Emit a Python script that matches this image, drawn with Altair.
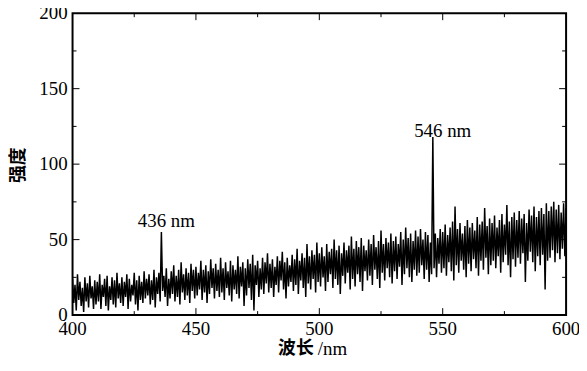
import altair as alt
import numpy as np
import pandas as pd

# upper excursions of the noisy spectrum, one per nm from 400 to 600
hi_vals = [
    24, 20, 27, 22, 18, 25, 21, 26, 19, 23,
    22, 27, 20, 24, 26, 19, 25, 23, 28, 21,
    25, 22, 27, 24, 20, 28, 23, 26, 22, 29,
    24, 27, 23, 30, 25, 28, 55, 26, 31, 24,
    29, 33, 26, 30, 35, 27, 31, 28, 34, 30,
    32, 28, 36, 30, 33, 29, 37, 31, 34, 30,
    38, 31, 35, 29, 36, 33, 30, 39, 32, 35,
    31, 37, 34, 40, 33, 36, 31, 38, 35, 41,
    34, 37, 32, 39, 36, 42, 35, 38, 33, 40,
    37, 44, 36, 41, 38, 47, 39, 43, 40, 48,
    41, 45, 39, 47, 42, 44, 50, 43, 46, 41,
    48, 43, 46, 52, 44, 49, 45, 51, 46, 43,
    50, 47, 53, 45, 49, 56, 47, 51, 48, 54,
    49, 52, 47, 55, 50, 58, 51, 54, 49, 56,
    52, 57, 50, 55, 53, 48, 118, 54, 51, 57,
    55, 60, 53, 58, 62, 72, 57, 61, 54, 59,
    63, 58, 61, 56, 65, 60, 62, 71, 59, 64,
    61, 66, 58, 63, 67, 60, 73, 62, 65, 68,
    63, 69, 64, 67, 61, 70, 66, 72, 65, 69,
    71, 67, 74, 69, 72, 75, 70, 73, 68, 74,
    71,
]
# lower excursions, one per nm from 400.5 to 599.5
lo_vals = [
    8, 3, 10, 6, 2, 9, 5, 11, 4, 7,
    9, 4, 12, 6, 3, 10, 7, 5, 11, 8,
    6, 12, 4, 9, 13, 7, 3, 10, 8, 11,
    13, 7, 10, 5, 14, 9, 16, 12, 6, 11,
    14, 9, 12, 7, 15, 10, 13, 8, 16, 11,
    13, 17, 10, 15, 8, 14, 18, 11, 16, 12,
    15, 10, 18, 13, 9, 17, 14, 11, 19, 6,
    13, 18, 10, 3, 20, 12, 17, 14, 21, 15,
    18, 12, 20, 15, 23, 17, 11, 19, 22, 16,
    20, 14, 23, 18, 12, 21, 17, 24, 15, 22,
    19, 25, 16, 22, 27, 18, 24, 20, 14, 26,
    21, 28, 17, 24, 19, 27, 22, 16, 29, 23,
    26, 20, 30, 24, 18, 28, 23, 31, 25, 21,
    29, 24, 32, 20, 27, 31, 25, 22, 30, 26,
    28, 33, 24, 30, 22, 27, 31, 25, 34, 28,
    31, 26, 35, 29, 23, 33, 28, 36, 30, 25,
    34, 29, 37, 31, 26, 36, 30, 38, 27, 33,
    36, 31, 39, 28, 35, 40, 33, 25, 37, 32,
    38, 34, 41, 22, 36, 42, 35, 29, 39, 33,
    40, 17, 36, 38, 43, 35, 41, 37, 44, 39,
]

x_ticks = [400, 450, 500, 550, 600]
y_ticks = [0, 50, 100, 150, 200]
x_minor = [425, 475, 525, 575]
y_minor = [25, 75, 125, 175]
x_inner = [450, 500, 550]
y_inner = [50, 100, 150]

peak_labels = ["436 nm", "546 nm"]
peak_label_x = [438, 550]
peak_label_y = [62, 122]

x_title_cjk = "波长"
x_title_unit = "/nm"
y_title = "强度"

W, H = 497, 304
SERIF = "Liberation Serif"
CJK = "Noto Sans CJK SC"

wl_hi = np.arange(400, 601, 1.0)
wl_lo = np.arange(400.5, 600, 1.0)
spec = pd.DataFrame({
    "wl": np.concatenate([wl_hi, wl_lo]),
    "val": hi_vals + lo_vals,
}).sort_values("wl")

xs = alt.Scale(domain=[400, 600], nice=False, zero=False)
ys = alt.Scale(domain=[0, 200], nice=False)

line = alt.Chart(spec).mark_line(color="black", strokeWidth=1.5, clip=True).encode(
    x=alt.X("wl:Q", scale=xs, axis=None),
    y=alt.Y("val:Q", scale=ys, axis=None),
    order="wl:Q",
)

txt = alt.Chart(pd.DataFrame({"t": peak_labels, "x": peak_label_x, "y": peak_label_y})).mark_text(
    font=SERIF, fontSize=19, color="black", align="center", baseline="middle"
).encode(x=alt.X("x:Q", scale=xs), y=alt.Y("y:Q", scale=ys), text="t:N")

# tick labels
xlab = alt.Chart(pd.DataFrame({"v": x_ticks})).mark_text(
    font=SERIF, fontSize=19, color="black", align="center", baseline="middle"
).encode(x=alt.X("v:Q", scale=xs), y=alt.value(H + 14), text=alt.Text("v:Q", format="d"))
ylab = alt.Chart(pd.DataFrame({"v": y_ticks})).mark_text(
    font=SERIF, fontSize=19, color="black", align="right", baseline="middle"
).encode(y=alt.Y("v:Q", scale=ys), x=alt.value(-5), text=alt.Text("v:Q", format="d"))

# axis titles
xt1 = alt.Chart(pd.DataFrame({"t": [x_title_cjk]})).mark_text(
    font=CJK, fontSize=18, fontWeight="bold", color="black", align="right", baseline="middle"
).encode(x=alt.value(243), y=alt.value(H + 34), text="t:N")
xt2 = alt.Chart(pd.DataFrame({"t": [x_title_unit]})).mark_text(
    font=SERIF, fontSize=19, color="black", align="left", baseline="middle"
).encode(x=alt.value(247), y=alt.value(H + 34), text="t:N")
yt = alt.Chart(pd.DataFrame({"t": [y_title]})).mark_text(
    font=CJK, fontSize=18, fontWeight="bold", color="black", align="center",
    baseline="middle", angle=270
).encode(x=alt.value(-54), y=alt.value(153), text="t:N")

dx_major = pd.DataFrame({"v": x_inner})
dx_minor = pd.DataFrame({"v": x_minor})
dy_major = pd.DataFrame({"v": y_inner})
dy_minor = pd.DataFrame({"v": y_minor})

def xticks(df, length):
    bottom = alt.Chart(df).mark_rule(color="black", strokeWidth=1).encode(
        x=alt.X("v:Q", scale=xs), y=alt.value(H), y2=alt.value(H - length))
    top = alt.Chart(df).mark_rule(color="black", strokeWidth=1).encode(
        x=alt.X("v:Q", scale=xs), y=alt.value(0), y2=alt.value(length))
    return bottom + top

def yticks(df, length):
    left = alt.Chart(df).mark_rule(color="black", strokeWidth=1).encode(
        y=alt.Y("v:Q", scale=ys), x=alt.value(0), x2=alt.value(length))
    right = alt.Chart(df).mark_rule(color="black", strokeWidth=1).encode(
        y=alt.Y("v:Q", scale=ys), x=alt.value(W), x2=alt.value(W - length))
    return left + right

chart = alt.layer(
    line, txt, xlab, ylab, xt1, xt2, yt,
    xticks(dx_major, 7), xticks(dx_minor, 4),
    yticks(dy_major, 7), yticks(dy_minor, 4),
).properties(
    width=W, height=H,
    autosize=alt.AutoSizeParams(type="none"),
    padding={"left": 65, "top": 4, "right": 13, "bottom": 44},
).configure_view(
    stroke="black", strokeWidth=2
)

chart.save("out.html", embed_options={"renderer": "svg", "actions": False})
